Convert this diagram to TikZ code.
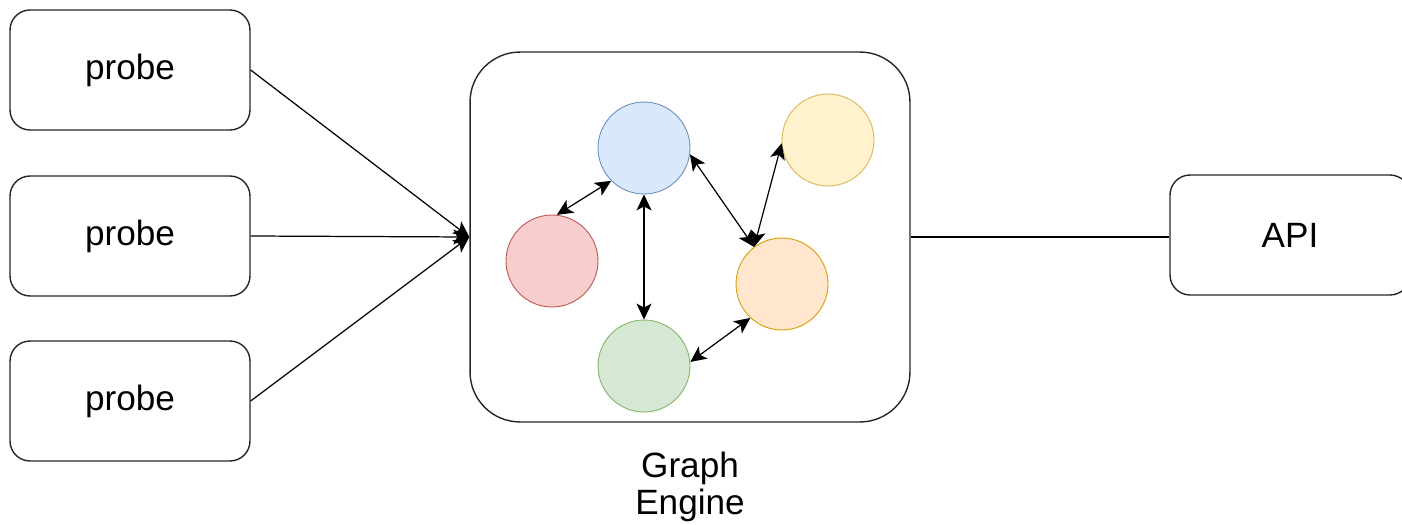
\documentclass[tikz,border=0pt]{standalone}
\usepackage{fontspec}
\setmainfont{Liberation Sans}
\usepackage{tikz}
\usetikzlibrary{arrows.meta, positioning, shapes}
\definecolor{blueF}{HTML}{DAE8FC}\definecolor{blueD}{HTML}{6C8EBF}
\definecolor{yelF}{HTML}{FFF2CC}\definecolor{yelD}{HTML}{D6B656}
\definecolor{redF}{HTML}{F8CECC}\definecolor{redD}{HTML}{B85450}
\definecolor{orgF}{HTML}{FFE6CC}\definecolor{orgD}{HTML}{D79B00}
\definecolor{grnF}{HTML}{D5E8D4}\definecolor{grnD}{HTML}{82B366}
\tikzset{
  box/.style={draw=black!85, line width=0.8pt, rounded corners=0.4cm,
    minimum width=4.8cm, minimum height=2.4cm, font=\fontsize{20}{22}\selectfont},
  vertex/.style={circle, line width=0.5pt, minimum size=1.84cm, inner sep=0pt},
  link/.style={line width=0.7pt, -{Stealth[length=3.2mm,width=3mm,inset=0.8mm]}},
  both/.style={line width=0.7pt, {Stealth[length=3.2mm,width=3mm,inset=0.8mm]}-{Stealth[length=3.2mm,width=3mm,inset=0.8mm]}}
}

\begin{document}
\begin{tikzpicture}[x=0.02cm, y=-0.02cm]
\useasboundingbox (0,0) rectangle (1402,524);
\node[box] (probeA) at (130,70) {probe};
\node[box] (probeB) at (130,236) {probe};
\node[box] (probeC) at (130,401) {probe};
\node[box, rounded corners=1cm, minimum width=8.8cm, minimum height=7.4cm] (engine) at (690,237) {};
\node[box] (api) at (1290,235) {API};
\node[align=center, inner sep=0pt, font=\fontsize{20}{21}\selectfont] (label) at (690,487) {Graph\\Engine};

\node[vertex, fill=blueF, draw=blueD] (blue) at (644,148) {};
\node[vertex, fill=yelF, draw=yelD] (yellow) at (828,140) {};
\node[vertex, fill=redF, draw=redD] (red) at (552,261) {};
\node[vertex, fill=orgF, draw=orgD] (orange) at (782,284) {};
\node[vertex, fill=grnF, draw=grnD] (green) at (644,366) {};

\draw[link] (probeA.east |- 0,70) -- (engine.west);
\draw[link] (probeB.east) -- (engine.west);
\draw[link] (probeC.east) -- (engine.west);
\draw[line width=0.7pt] (engine.east) -- (api.west |- engine.east);

\draw[both] (red.84) -- (blue.225);
\draw[both] (blue.270) -- (green.90);
\draw[both] (blue.352) -- (orange.127);
\draw[both] (orange.127) -- (yellow.184);
\draw[both] (green.5) -- (orange.227);
\end{tikzpicture}
\end{document}
